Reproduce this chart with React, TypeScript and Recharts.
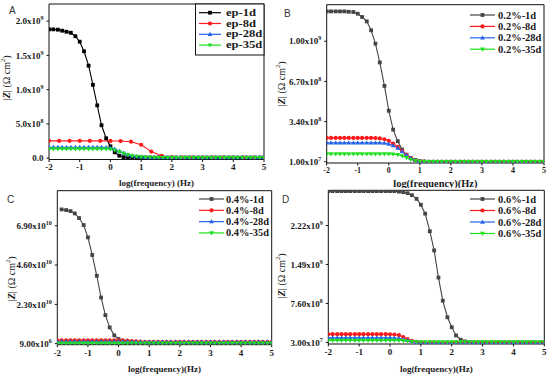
import { LineChart, Line, XAxis, YAxis, ReferenceLine } from 'recharts';

// log(frequency) grids shared by the curves
const logFreq = [
  -2, -1.86, -1.71, -1.57, -1.43, -1.29, -1.14, -1, -0.86, -0.71, -0.57, -0.43, -0.29, -0.14, 0,
  0.14, 0.29, 0.43, 0.57, 0.71, 0.86, 1, 1.14, 1.29, 1.43, 1.57, 1.71, 1.86, 2,
  2.14, 2.29, 2.43, 2.57, 2.71, 2.86, 3, 3.14, 3.29, 3.43, 3.57, 3.71, 3.86, 4,
  4.14, 4.29, 4.43, 4.57, 4.71, 4.86, 5,
];
const logFreqSparse = [
  -2, -1.67, -1.33, -1, -0.67, -0.33, 0, 0.33, 0.67, 1, 1.33, 1.67, 2, 2.33, 2.67, 3, 3.33, 3.67, 4,
  4.33, 4.67, 5,
];

// A: neat epoxy
const ep1d = [
  1.88e9, 1.88e9, 1.875e9, 1.86e9, 1.845e9, 1.83e9, 1.78e9, 1.7e9, 1.56e9, 1.35e9, 1.07e9, 7.7e8,
  4.8e8, 2.9e8, 1.72e8, 8.5e7, 3.5e7, 1.5e7, 1.1e7, 8e6, 8e6, 8e6, 8e6, 8e6, 8e6, 8e6, 8e6, 8e6,
  8e6, 8e6, 8e6, 8e6, 8e6, 8e6, 8e6, 8e6, 8e6, 8e6, 8e6, 8e6, 8e6, 8e6, 8e6, 8e6, 8e6, 8e6, 8e6,
  8e6, 8e6, 8e6,
];
const ep8d = [
  2.52e8, 2.52e8, 2.52e8, 2.52e8, 2.52e8, 2.52e8, 2.51e8, 2.49e8, 2.4e8, 1.95e8, 9.5e7, 3.2e7,
  1.2e7, 8e6, 8e6, 8e6, 8e6, 8e6, 8e6, 8e6, 8e6, 8e6,
];
const ep28d = [
  1.58e8, 1.58e8, 1.58e8, 1.58e8, 1.58e8, 1.58e8, 1.58e8, 1.58e8, 1.58e8, 1.58e8, 1.58e8, 1.58e8,
  1.58e8, 1.57e8, 1.52e8, 1.33e8, 1.02e8, 7.5e7, 5e7, 3.5e7, 2.5e7, 1.8e7, 1.3e7, 1e7, 8e6, 8e6,
  8e6, 8e6, 8e6, 8e6, 8e6, 8e6, 8e6, 8e6, 8e6, 8e6, 8e6, 8e6, 8e6, 8e6, 8e6, 8e6, 8e6, 8e6, 8e6,
  8e6, 8e6, 8e6, 8e6, 8e6,
];
const ep35d = [
  1.35e8, 1.35e8, 1.35e8, 1.35e8, 1.35e8, 1.35e8, 1.35e8, 1.35e8, 1.35e8, 1.35e8, 1.35e8, 1.35e8,
  1.35e8, 1.34e8, 1.3e8, 1.16e8, 9.4e7, 7e7, 4.8e7, 3.3e7, 2.4e7, 1.7e7, 1.3e7, 1e7, 8e6, 8e6,
  8e6, 8e6, 8e6, 8e6, 8e6, 8e6, 8e6, 8e6, 8e6, 8e6, 8e6, 8e6, 8e6, 8e6, 8e6, 8e6, 8e6, 8e6, 8e6,
  8e6, 8e6, 8e6, 8e6, 8e6,
];

// B: 0.2 %
const b1d = [
  1.245e9, 1.245e9, 1.245e9, 1.245e9, 1.245e9, 1.242e9, 1.24e9, 1.226e9, 1.199e9, 1.163e9, 1.09e9,
  9.8e8, 8.26e8, 6.33e8, 4.29e8, 2.74e8, 1.79e8, 1.1e8, 6.5e7, 4e7, 2.5e7, 1.6e7, 1.2e7, 1e7,
  1e7, 1e7, 1e7, 1e7, 1e7, 1e7, 1e7, 1e7, 1e7, 1e7, 1e7, 1e7, 1e7, 1e7, 1e7, 1e7, 1e7, 1e7, 1e7,
  1e7, 1e7, 1e7, 1e7, 1e7, 1e7, 1e7,
];
const b8d = [
  2.06e8, 2.06e8, 2.06e8, 2.06e8, 2.06e8, 2.06e8, 2.06e8, 2.06e8, 2.06e8, 2.06e8, 2.06e8, 2.05e8,
  2.02e8, 1.95e8, 1.82e8, 1.6e8, 1.32e8, 1e8, 6.8e7, 4e7, 2.2e7, 1.4e7, 1.1e7, 1e7, 1e7, 1e7,
  1e7, 1e7, 1e7, 1e7, 1e7, 1e7, 1e7, 1e7, 1e7, 1e7, 1e7, 1e7, 1e7, 1e7, 1e7, 1e7, 1e7, 1e7, 1e7,
  1e7, 1e7, 1e7, 1e7, 1e7,
];
const b28d = [
  1.65e8, 1.65e8, 1.65e8, 1.65e8, 1.65e8, 1.65e8, 1.65e8, 1.65e8, 1.65e8, 1.65e8, 1.65e8, 1.65e8,
  1.65e8, 1.63e8, 1.56e8, 1.43e8, 1.22e8, 9.5e7, 6.6e7, 4e7, 2.2e7, 1.4e7, 1.1e7, 1e7, 1e7, 1e7,
  1e7, 1e7, 1e7, 1e7, 1e7, 1e7, 1e7, 1e7, 1e7, 1e7, 1e7, 1e7, 1e7, 1e7, 1e7, 1e7, 1e7, 1e7, 1e7,
  1e7, 1e7, 1e7, 1e7, 1e7,
];
const b35d = [
  7.4e7, 7.4e7, 7.4e7, 7.4e7, 7.4e7, 7.4e7, 7.4e7, 7.4e7, 7.4e7, 7.4e7, 7.4e7, 7.4e7, 7.4e7,
  7.4e7, 7.4e7, 7.2e7, 6.8e7, 5.8e7, 4.3e7, 2.8e7, 1.8e7, 1.3e7, 1.1e7, 1e7, 1e7, 1e7, 1e7, 1e7,
  1e7, 1e7, 1e7, 1e7, 1e7, 1e7, 1e7, 1e7, 1e7, 1e7, 1e7, 1e7, 1e7, 1e7, 1e7, 1e7, 1e7, 1e7, 1e7,
  1e7, 1e7, 1e7,
];

// C: 0.4 %
const c1d = [
  null, 7.855e10, 7.816e10, 7.757e10, 7.62e10, 7.35e10, 6.94e10, 6.22e10, 5.19e10, 3.97e10,
  2.7e10, 1.67e10, 9.53e9, 4.87e9, 2.73e9, 1.4e9, 8e8, 5e8, 3e8, 3e8, 3e8, 3e8, 3e8, 3e8, 3e8,
  3e8, 3e8, 3e8, 3e8, 3e8, 3e8, 3e8, 3e8, 3e8, 3e8, 3e8, 3e8, 3e8, 3e8, 3e8, 3e8, 3e8, 3e8, 3e8,
  3e8, 3e8, 3e8, 3e8, 3e8, 3e8,
];
const c8d = [
  2e9, 2e9, 2e9, 2e9, 2e9, 2e9, 2e9, 2e9, 2e9, 2e9, 2e9, 2e9, 2e9, 2e9, 2e9, 1.9e9, 1.75e9,
  1.55e9, 1.35e9, 1.2e9, 1.1e9, 1.05e9, 1e9, 1e9, 1e9, 1e9, 1e9, 1e9, 1e9, 1e9, 1e9, 1e9, 1e9,
  1e9, 1e9, 1e9, 1e9, 1e9, 1e9, 1e9, 1e9, 1e9, 1e9, 1e9, 1e9, 1e9, 1e9, 1e9, 1e9, 1e9,
];
const c28d = [
  1.3e9, 1.3e9, 1.3e9, 1.3e9, 1.3e9, 1.3e9, 1.3e9, 1.3e9, 1.3e9, 1.3e9, 1.3e9, 1.3e9, 1.3e9,
  1.3e9, 1.3e9, 1.28e9, 1.22e9, 1.15e9, 1.1e9, 1.05e9, 1e9, 1e9, 1e9, 1e9, 1e9, 1e9, 1e9, 1e9,
  1e9, 1e9, 1e9, 1e9, 1e9, 1e9, 1e9, 1e9, 1e9, 1e9, 1e9, 1e9, 1e9, 1e9, 1e9, 1e9, 1e9, 1e9, 1e9,
  1e9, 1e9, 1e9,
];
const c35d = [
  3e8, 3e8, 3e8, 3e8, 3e8, 3e8, 3e8, 3e8, 3e8, 3e8, 3e8, 3e8, 3e8, 3e8, 3e8, 2.8e8, 2.6e8,
  2.5e8, 2.5e8, 2.5e8, 2.5e8, 2.5e8, 2.5e8, 2.5e8, 2.5e8, 2.5e8, 2.5e8, 2.5e8, 2.5e8, 2.5e8,
  2.5e8, 2.5e8, 2.5e8, 2.5e8, 2.5e8, 2.5e8, 2.5e8, 2.5e8, 2.5e8, 2.5e8, 2.5e8, 2.5e8, 2.5e8,
  2.5e8, 2.5e8, 2.5e8, 2.5e8, 2.5e8, 2.5e8, 2.5e8,
];

// D: 0.6 %
const d1d = [
  2.865e9, 2.865e9, 2.865e9, 2.865e9, 2.865e9, 2.865e9, 2.865e9, 2.865e9, 2.865e9, 2.865e9,
  2.865e9, 2.865e9, 2.865e9, 2.865e9, 2.865e9, 2.865e9, 2.855e9, 2.845e9, 2.826e9, 2.789e9,
  2.72e9, 2.609e9, 2.442e9, 2.113e9, 1.754e9, 1.245e9, 8.11e8, 5.01e8, 3.15e8, 1.6e8, 8e7,
  4.9e7, 3.5e7, 2.8e7, 2.8e7, 2.8e7, 2.8e7, 2.8e7, 2.8e7, 2.8e7, 2.8e7, 2.8e7, 2.8e7, 2.8e7,
  2.8e7, 2.8e7, 2.8e7, 2.8e7, 2.8e7, 2.8e7,
];
const d8d = [
  1.85e8, 1.85e8, 1.85e8, 1.85e8, 1.85e8, 1.85e8, 1.85e8, 1.85e8, 1.85e8, 1.85e8, 1.85e8, 1.85e8,
  1.85e8, 1.85e8, 1.83e8, 1.78e8, 1.65e8, 1.3e8, 9e7, 6e7, 4e7, 3e7, 2.5e7, 2.5e7, 2.5e7, 2.5e7,
  2.5e7, 2.5e7, 2.5e7, 2.5e7, 2.5e7, 2.5e7, 2.5e7, 2.5e7, 2.5e7, 2.5e7, 2.5e7, 2.5e7, 2.5e7,
  2.5e7, 2.5e7, 2.5e7, 2.5e7, 2.5e7, 2.5e7, 2.5e7, 2.5e7, 2.5e7, 2.5e7, 2.5e7,
];
const d28d = [
  1.15e8, 1.15e8, 1.15e8, 1.15e8, 1.15e8, 1.15e8, 1.15e8, 1.15e8, 1.15e8, 1.15e8, 1.15e8, 1.15e8,
  1.15e8, 1.15e8, 1.15e8, 1.12e8, 1.05e8, 9e7, 7e7, 5e7, 3.5e7, 2.8e7, 2.5e7, 2.5e7, 2.5e7,
  2.5e7, 2.5e7, 2.5e7, 2.5e7, 2.5e7, 2.5e7, 2.5e7, 2.5e7, 2.5e7, 2.5e7, 2.5e7, 2.5e7, 2.5e7,
  2.5e7, 2.5e7, 2.5e7, 2.5e7, 2.5e7, 2.5e7, 2.5e7, 2.5e7, 2.5e7, 2.5e7, 2.5e7, 2.5e7,
];
const d35d = [
  6.5e7, 6.5e7, 6.5e7, 6.5e7, 6.5e7, 6.5e7, 6.5e7, 6.5e7, 6.5e7, 6.5e7, 6.5e7, 6.5e7, 6.5e7,
  6.5e7, 6.5e7, 6.5e7, 6.5e7, 6e7, 5.2e7, 4.5e7, 4e7, 3.8e7, 3.8e7, 3.8e7, 3.8e7, 3.8e7, 3.8e7,
  3.8e7, 3.8e7, 3.8e7, 3.8e7, 3.8e7, 3.8e7, 3.8e7, 3.8e7, 3.8e7, 3.8e7, 3.8e7, 3.8e7, 3.8e7,
  3.8e7, 3.8e7, 3.8e7, 3.8e7, 3.8e7, 3.8e7, 3.8e7, 3.8e7, 3.8e7, 3.8e7,
];

const namesA = ['ep-1d', 'ep-8d', 'ep-28d', 'ep-35d'];
const namesB = ['0.2%-1d', '0.2%-8d', '0.2%-28d', '0.2%-35d'];
const namesC = ['0.4%-1d', '0.4%-8d', '0.4%-28d', '0.4%-35d'];
const namesD = ['0.6%-1d', '0.6%-8d', '0.6%-28d', '0.6%-35d'];

const xTicks = [-2, -1, 0, 1, 2, 3, 4, 5];
const yTicksA = [0, 5e8, 1e9, 1.5e9, 2e9];
const yLabelsA = ['0.0', '5.0x10^8', '1.0x10^9', '1.5x10^9', '2.0x10^9'];
const yTicksB = [1e7, 3.4e8, 6.7e8, 1e9];
const yLabelsB = ['1.00x10^7', '3.40x10^8', '6.70x10^8', '1.00x10^9'];
const yTicksC = [9e6, 2.3e10, 4.6e10, 6.9e10];
const yLabelsC = ['9.00x10^6', '2.30x10^10', '4.60x10^10', '6.90x10^10'];
const yTicksD = [3e7, 7.6e8, 1.49e9, 2.22e9];
const yLabelsD = ['3.00x10^7', '7.60x10^8', '1.49x10^9', '2.22x10^9'];

const SERIF = '"Liberation Serif", "Times New Roman", serif';
const INK = '#1a1a1a';
const SHAPES = ['square', 'circle', 'up', 'down'];
const COLORS_A = ['#000000', '#ff1a1a', '#2563eb', '#1ee01e'];
const COLORS = ['#454545', '#ff1a1a', '#2563eb', '#1ee01e'];

const toPoints = (xs: number[], ys: (number | null)[]) => xs.map((x, i) => ({ x, y: ys[i] }));

function Marker({ cx, cy, shape, color }: { cx: number; cy: number; shape: string; color: string }) {
  if (cx == null || cy == null || isNaN(cy)) return <g />;
  if (shape === 'square') return <rect x={cx - 1.9} y={cy - 1.9} width={3.8} height={3.8} fill={color} />;
  if (shape === 'circle') return <circle cx={cx} cy={cy} r={2.1} fill={color} />;
  if (shape === 'up')
    return <polygon points={`${cx},${cy - 2.5} ${cx + 2.4},${cy + 1.7} ${cx - 2.4},${cy + 1.7}`} fill={color} />;
  return <polygon points={`${cx},${cy + 2.5} ${cx + 2.4},${cy - 1.7} ${cx - 2.4},${cy - 1.7}`} fill={color} />;
}

function YTick({ x, y, payload, ticks, labels }: any) {
  const idx = ticks.indexOf(payload.value);
  const label: string = labels[idx] ?? '';
  const [base, exp] = label.split('^');
  return (
    <text x={x} y={y} dy={3.2} textAnchor="end" fontFamily={SERIF} fontWeight="bold" fontSize={9} fill={INK}>
      {base}
      {exp && (
        <tspan dy={-4} fontSize={6}>
          {exp}
        </tspan>
      )}
    </text>
  );
}

const panels = [
  {
    letter: 'A', left: 0, top: 0, names: namesA, colors: COLORS_A,
    xs: [logFreq, logFreqSparse, logFreq, logFreq], series: [ep1d, ep8d, ep28d, ep35d],
    yDomain: [-2e7, 2.25e9], yTicks: yTicksA, yLabels: yLabelsA,
    margin: { top: 4, right: 11, left: 0, bottom: 0 }, yW: 49, xH: 28.5,
    xTitle: 'log(frequency) (Hz)', xTitleY: 186, xTitleSize: 9, xTickSize: 9,
    letterPos: [9, 14], yTitlePos: [6, 78],
    legend: { x1: 199, x2: 221, tx: 226, y0: 12.7, dy: 10.8, size: 10.5, sx: 1.2, box: [195.5, 4, 68.5, 51] },
  },
  {
    letter: 'B', left: 275, top: 0, names: namesB, colors: COLORS,
    xs: [logFreq, logFreq, logFreq, logFreq], series: [b1d, b8d, b28d, b35d],
    yDomain: [0, 1.3e9], yTicks: yTicksB, yLabels: yLabelsB,
    margin: { top: 4.7, right: 6, left: 0, bottom: 0 }, yW: 51.7, xH: 25,
    xTitle: 'log(frequency)(Hz)', xTitleY: 186.5, xTitleSize: 10.4, xTickSize: 8,
    letterPos: [9, 17], yTitlePos: [6, 84],
    legend: { x1: 195, x2: 220, tx: 223, y0: 15, dy: 11.4, size: 10.5, sx: 1, box: null },
  },
  {
    letter: 'C', left: 0, top: 188, names: namesC, colors: COLORS,
    xs: [logFreq, logFreq, logFreq, logFreq], series: [c1d, c8d, c28d, c35d],
    yDomain: [-6e8, 8.95e10], yTicks: yTicksC, yLabels: yLabelsC,
    margin: { top: 2.7, right: 3.3, left: 0, bottom: 0 }, yW: 57.3, xH: 31.3,
    xTitle: 'log(frequency)(Hz)', xTitleY: 184, xTitleSize: 9, xTickSize: 9,
    letterPos: [7, 15], yTitlePos: [11, 91],
    legend: { x1: 199, x2: 224, tx: 226, y0: 11, dy: 11.3, size: 10.4, sx: 1, box: null },
  },
  {
    letter: 'D', left: 275, top: 188, names: namesD, colors: COLORS,
    xs: [logFreq, logFreq, logFreq, logFreq], series: [d1d, d8d, d28d, d35d],
    yDomain: [0, 2.88e9], yTicks: yTicksD, yLabels: yLabelsD,
    margin: { top: 2.3, right: 5.7, left: 0, bottom: 0 }, yW: 53.3, xH: 32,
    xTitle: 'log(frequency)(Hz)', xTitleY: 184, xTitleSize: 9, xTickSize: 9,
    letterPos: [7, 15], yTitlePos: [6, 88],
    legend: { x1: 195, x2: 220, tx: 223, y0: 11, dy: 11.5, size: 10.5, sx: 1, box: null },
  },
];

function Panel({ p }: { p: (typeof panels)[number] }) {
  const W = 275;
  const H = 188;
  const plotLeft = p.margin.left + p.yW;
  const plotRight = W - p.margin.right;
  const lg = p.legend;
  return (
    <div style={{ position: 'absolute', left: p.left, top: p.top, width: W, height: H, overflow: 'hidden' }}>
      <LineChart width={W} height={H} margin={p.margin}>
        <XAxis
          type="number"
          dataKey="x"
          domain={[-2, 5]}
          ticks={xTicks}
          allowDataOverflow
          height={p.xH}
          interval={0}
          tickSize={2.5}
          tickMargin={2}
          stroke="#111"
          tick={{ fontSize: p.xTickSize, fontFamily: SERIF, fontWeight: 'bold', fill: INK }}
        />
        <YAxis
          type="number"
          dataKey="y"
          domain={p.yDomain}
          ticks={p.yTicks}
          allowDataOverflow
          width={p.yW}
          interval={0}
          tickSize={2.5}
          tickMargin={3}
          stroke="#111"
          tick={(props: any) => <YTick {...props} ticks={p.yTicks} labels={p.yLabels} />}
        />
        <ReferenceLine x={5} stroke="#111" />
        <ReferenceLine y={p.yDomain[1]} stroke="#111" />
        {p.series.map((s, i) => (
          <Line
            key={p.names[i]}
            name={p.names[i]}
            data={toPoints(p.xs[i], s)}
            dataKey="y"
            type="linear"
            stroke={p.colors[i]}
            strokeWidth={1.1}
            isAnimationActive={false}
            dot={(d: any) => (
              <Marker key={`${p.names[i]}-${d.index}`} cx={d.cx} cy={d.cy} shape={SHAPES[i]} color={p.colors[i]} />
            )}
          />
        ))}
      </LineChart>
      <svg width={W} height={H} style={{ position: 'absolute', left: 0, top: 0, pointerEvents: 'none' }}>
        <text x={p.letterPos[0]} y={p.letterPos[1]} fontFamily="Arial, 'Liberation Sans', sans-serif" fontSize={10} fill="#333">
          {p.letter}
        </text>
        <text
          transform={`translate(${p.yTitlePos[0]},${p.yTitlePos[1]}) rotate(-90)`}
          textAnchor="middle"
          dominantBaseline="central"
          fontFamily={SERIF}
          fontSize={10}
          fill={INK}
        >
          <tspan fontWeight="bold" fontStyle="italic">|Z|</tspan>
          <tspan> (Ω cm</tspan>
          <tspan dy={-4} fontSize={6.5}>2</tspan>
          <tspan dy={4}>)</tspan>
        </text>
        <text
          x={(plotLeft + plotRight) / 2}
          y={p.xTitleY}
          textAnchor="middle"
          fontFamily={SERIF}
          fontWeight="bold"
          fontSize={p.xTitleSize}
          fill={INK}
        >
          {p.xTitle}
        </text>
        {lg.box && (
          <rect x={lg.box[0]} y={lg.box[1]} width={lg.box[2]} height={lg.box[3]} fill="#fff" stroke="#111" strokeWidth={1} />
        )}
        {p.names.map((n, i) => {
          const y = lg.y0 + i * lg.dy;
          const mid = (lg.x1 + lg.x2) / 2;
          return (
            <g key={n}>
              <line x1={lg.x1} x2={lg.x2} y1={y} y2={y} stroke={p.colors[i]} strokeWidth={1.2} />
              <Marker cx={mid} cy={y} shape={SHAPES[i]} color={p.colors[i]} />
              <text
                transform={`translate(${lg.tx},${y}) scale(${lg.sx},1)`}
                dominantBaseline="central"
                fontFamily={SERIF}
                fontWeight="bold"
                fontSize={lg.size}
                fill={INK}
              >
                {n}
              </text>
            </g>
          );
        })}
      </svg>
    </div>
  );
}

export default function App() {
  return (
    <div style={{ position: 'absolute', left: 0, top: 0, width: 550, height: 376, background: '#fff' }}>
      {panels.map((p) => (
        <Panel key={p.letter} p={p} />
      ))}
    </div>
  );
}
